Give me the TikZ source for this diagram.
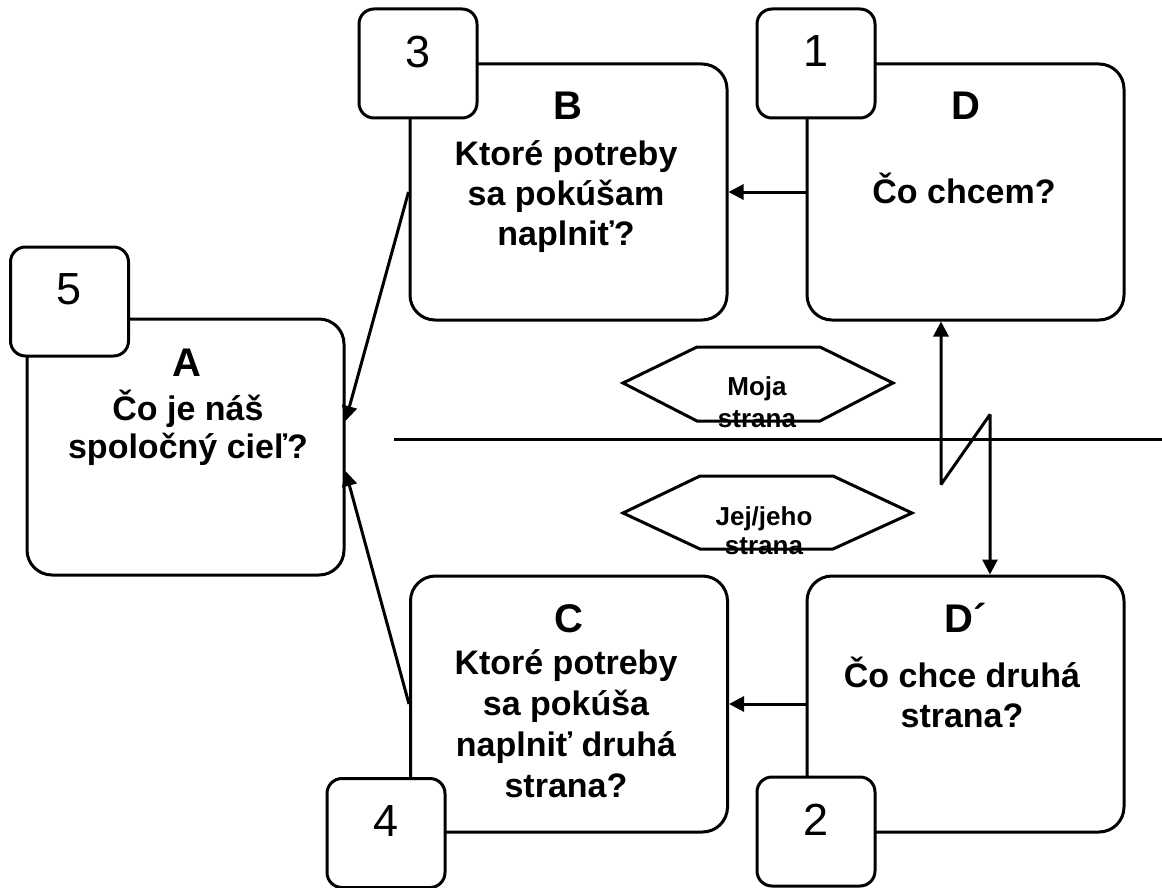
\documentclass[tikz,border=0pt]{standalone}
\usepackage{fontspec}
\setmainfont{Liberation Sans}
\usetikzlibrary{arrows.meta}
\tikzset{
  bigbox/.style={draw, rounded corners=25pt, minimum width=317pt, minimum height=256pt, inner sep=0pt},
  numbox/.style={draw, fill=white, rounded corners=15pt, minimum width=118pt, minimum height=109pt, inner sep=0pt,
                 font=\fontsize{45}{45}\selectfont, text depth=24pt},
  headtxt/.style={font=\bfseries\fontsize{40}{44}\selectfont, anchor=base, inner sep=0pt},
  qtxt/.style={font=\bfseries\fontsize{34}{40}\selectfont, align=center, anchor=base, inner sep=0pt},
  hextxt/.style={font=\bfseries\fontsize{26}{32}\selectfont, align=center, anchor=base, inner sep=0pt},
  conn/.style={-{Triangle[length=15pt, width=15pt]}},
  dconn/.style={{Triangle[length=15pt, width=15pt]}-{Triangle[length=15pt, width=15pt]}, line join=bevel},
}
\begin{document}
\begin{tikzpicture}[x=1pt, y=-1pt, line width=3pt]
\useasboundingbox (0,0) rectangle (1162,888);

% big boxes
\node[bigbox] (B) at (568.5,192) {};
\node[bigbox] (D) at (965.5,192) {};
\node[bigbox] (A) at (185.5,447) {};
\node[bigbox] (C) at (569,704) {};
\node[bigbox] (Dp) at (965.5,704) {};

% number boxes
\node[numbox] (n3) at (418,63.5) {3};
\node[numbox] (n1) at (816,63.5) {1};
\node[numbox] (n5) at (69.5,301.5) {5};
\node[numbox] (n4) at (386,833) {4};
\node[numbox] (n2) at (816,831.5) {2};

% texts (multi-line nodes: base = baseline of the last line)
\node[headtxt] (Bh) at (568,120) {B};
\node[qtxt] (Bq) at (566,245) {Ktoré potreby\\sa pokúšam\\naplniť?};
\node[headtxt] (Dh) at (966,120) {D};
\node[qtxt] (Dq) at (964,203) {Čo chcem?};
\node[headtxt] (Ah) at (187,376) {A};
\node[qtxt, font=\bfseries\fontsize{34}{38}\selectfont] (Aq) at (188,458) {Čo je náš\\spoločný cieľ?};
\node[headtxt] (Ch) at (569,632) {C};
\node[qtxt, font=\bfseries\fontsize{34}{40.7}\selectfont] (Cq) at (566,797) {Ktoré potreby\\sa pokúša\\naplniť druhá\\strana?};
\node[headtxt] (Dph) at (966,632) {D´};
\node[qtxt] (Dpq) at (962,727) {Čo chce druhá\\strana?};

% divider
\coordinate (divL) at (394,439);
\coordinate (divR) at (1162,439);
\draw (divL) -- (divR);

% hexagons
\draw (623,383) -- (697,347) -- (820,347) -- (893,383) -- (820,421) -- (697,421) -- cycle;
\node[hextxt] (h1) at (757,427) {Moja\\strana};
\draw (623,513) -- (700,476) -- (833,476) -- (912,513) -- (833,549) -- (700,549) -- cycle;
\node[hextxt, font=\bfseries\fontsize{26}{29}\selectfont] (h2) at (764,554) {Jej/jeho\\strana};

% connectors
\draw[conn] (D.west) -- (B.east);
\draw[conn] (Dp.west) -- (C.east);
\draw[conn] (B.west) -- ([yshift=26pt]A.east);
\draw[conn] (C.west) -- ([yshift=-24pt]A.east);
\draw[dconn] ([xshift=-24.5pt]D.south) -- ++(0,163) -- ++(49,-70) -- ([xshift=24.5pt]Dp.north);
\end{tikzpicture}
\end{document}
